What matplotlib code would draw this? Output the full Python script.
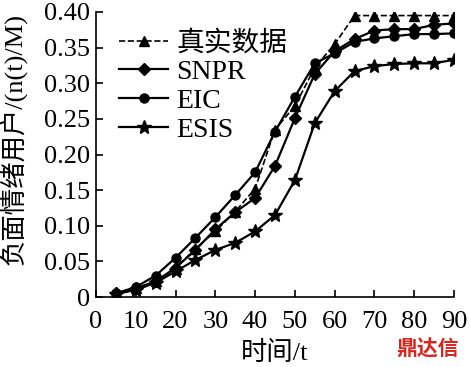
import matplotlib
matplotlib.use('Agg')
from matplotlib import pyplot as plt

plt.rcParams['font.family'] = ['Liberation Serif', 'Noto Sans CJK SC']

t = [5, 10, 15, 20, 25, 30, 35, 40, 45, 50, 55, 60, 65, 70, 75, 80, 85, 90]

real = [0.005, 0.012, 0.022, 0.040, 0.068, 0.092, 0.120, 0.152, 0.235, 0.268, 0.322, 0.355,
        0.395, 0.395, 0.395, 0.395, 0.395, 0.395]
snpr = [0.005, 0.012, 0.022, 0.041, 0.066, 0.095, 0.119, 0.139, 0.184, 0.251, 0.313, 0.345,
        0.362, 0.374, 0.376, 0.376, 0.382, 0.384]
eic = [0.005, 0.014, 0.030, 0.055, 0.083, 0.112, 0.143, 0.175, 0.232, 0.281, 0.328, 0.342,
       0.358, 0.363, 0.366, 0.369, 0.369, 0.370]
esis = [0.004, 0.010, 0.020, 0.036, 0.052, 0.066, 0.076, 0.092, 0.115, 0.164, 0.244, 0.289,
        0.317, 0.324, 0.327, 0.328, 0.328, 0.333]

fig = plt.figure(figsize=(4.71, 3.67), dpi=100)
ax = fig.add_axes([96 / 471, 70 / 367, 358 / 471, 285 / 367])

ax.plot(t, real, '--', color='black', marker='^', markersize=6.5, linewidth=1.2, label='真实数据')
ax.plot(t, snpr, '-', color='black', marker='D', markersize=6.5, linewidth=1.6, label='SNPR')
ax.plot(t, eic, '-', color='black', marker='o', markersize=6.5, linewidth=1.6, label='EIC')
ax.plot(t, esis, '-', color='black', marker='*', markersize=10, linewidth=1.6, label='ESIS')

ax.set_xlim(0, 90)
ax.set_ylim(0, 0.40)
ax.set_xticks(range(0, 91, 10))
ax.set_yticks([0, 0.05, 0.10, 0.15, 0.20, 0.25, 0.30, 0.35, 0.40])
ax.set_yticklabels(['0', '0.05', '0.10', '0.15', '0.20', '0.25', '0.30', '0.35', '0.40'])
ax.spines['top'].set_visible(False)
ax.spines['right'].set_visible(False)
ax.tick_params(direction='in', length=5, width=1.2, labelsize=19)
ax.tick_params(axis='x', pad=10)
ax.tick_params(axis='y', pad=4)
for s in ['left', 'bottom']:
    ax.spines[s].set_linewidth(1.2)

ax.set_xlabel('时间/t', fontsize=19, labelpad=6)
ax.set_ylabel('负面情绪用户/(n(t)/M)', fontsize=19)
ax.yaxis.set_label_coords(-0.195, 0.555)

ax.legend(loc='upper left', frameon=False, fontsize=20, handlelength=1.75,
          labelspacing=0.12, borderaxespad=0.0, handletextpad=0.3,
          borderpad=0.0, bbox_to_anchor=(0.065, 0.935))

fig.text(0.975, 0.03, '鼎达信', color='#d9251c', fontsize=15, fontweight='bold',
         ha='right', family=['Noto Sans CJK SC'])

fig.savefig('out.png', dpi=100)
